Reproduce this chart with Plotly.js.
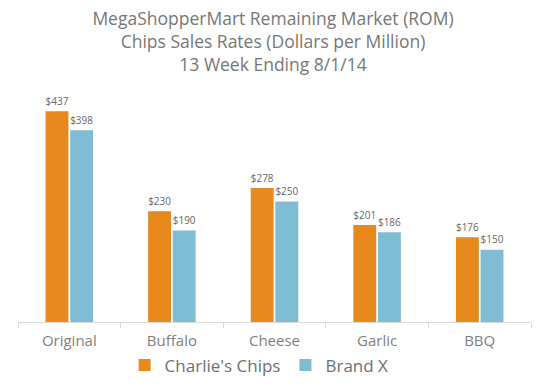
<!DOCTYPE html>
<html>
<head>
<meta charset="utf-8">
<script src="https://cdn.plot.ly/plotly-3.0.1.min.js"></script>
<style>html,body{margin:0;padding:0;background:#fff;}#chart{width:546px;height:389px;}</style>
</head>
<body>
<div id="chart"></div>
<script>
const categories = ["Original", "Buffalo", "Cheese", "Garlic", "BBQ"];
const charliesChips = [437, 230, 278, 201, 176];
const brandX = [398, 190, 250, 186, 150];
const seriesNames = ["Charlie's Chips", "Brand X"];

const FONT = "Open Sans, sans-serif";
const fmt = v => "$" + v;

const traces = [
  {type: "bar", name: seriesNames[0], x: categories, y: charliesChips,
   marker: {color: "#E8891E"}, text: charliesChips.map(fmt), textposition: "outside",
   textfont: {family: FONT, size: 12, color: "#666666"}, cliponaxis: false, hoverinfo: "none"},
  {type: "bar", name: seriesNames[1], x: categories, y: brandX,
   marker: {color: "#7FBDD4"}, text: brandX.map(fmt), textposition: "outside",
   textfont: {family: FONT, size: 12, color: "#666666"}, cliponaxis: false, hoverinfo: "none"}
];

const layout = {
  width: 546, height: 389,
  margin: {l: 18, r: 15, t: 81, b: 67, autoexpand: false},
  paper_bgcolor: "#fff", plot_bgcolor: "#fff",
  title: {text: "MegaShopperMart Remaining Market (ROM)<br>Chips Sales Rates (Dollars per Million)<br>13 Week Ending 8/1/14",
          font: {family: FONT, size: 17.5, color: "#767676"}, x: 0.5, xanchor: "center", yref: "container", y: 0.935, yanchor: "top"},
  barmode: "group", bargap: 0.52, bargroupgap: 0.07,
  xaxis: {showline: true, linecolor: "#D9D9D9", linewidth: 1, ticks: "outside", tickson: "boundaries",
          ticklen: 5, tickcolor: "#D9D9D9", tickfont: {family: FONT, size: 15, color: "#7F7F7F"},
          ticklabelstandoff: 5, automargin: false,
          showgrid: false, zeroline: false, fixedrange: true},
  yaxis: {range: [0, 500], visible: false, showgrid: false, zeroline: false, fixedrange: true},
  showlegend: true,
  legend: {orientation: "h", x: 0.47, xanchor: "center", y: -0.18, yanchor: "middle",
           bgcolor: "rgba(0,0,0,0)",
           font: {family: FONT, size: 17, color: "#6F6F6F"}, itemwidth: 30, tracegroupgap: 0},
  uniformtext: {mode: false}
};

Plotly.newPlot("chart", traces, layout, {displayModeBar: false, staticPlot: true});
</script>
</body>
</html>
